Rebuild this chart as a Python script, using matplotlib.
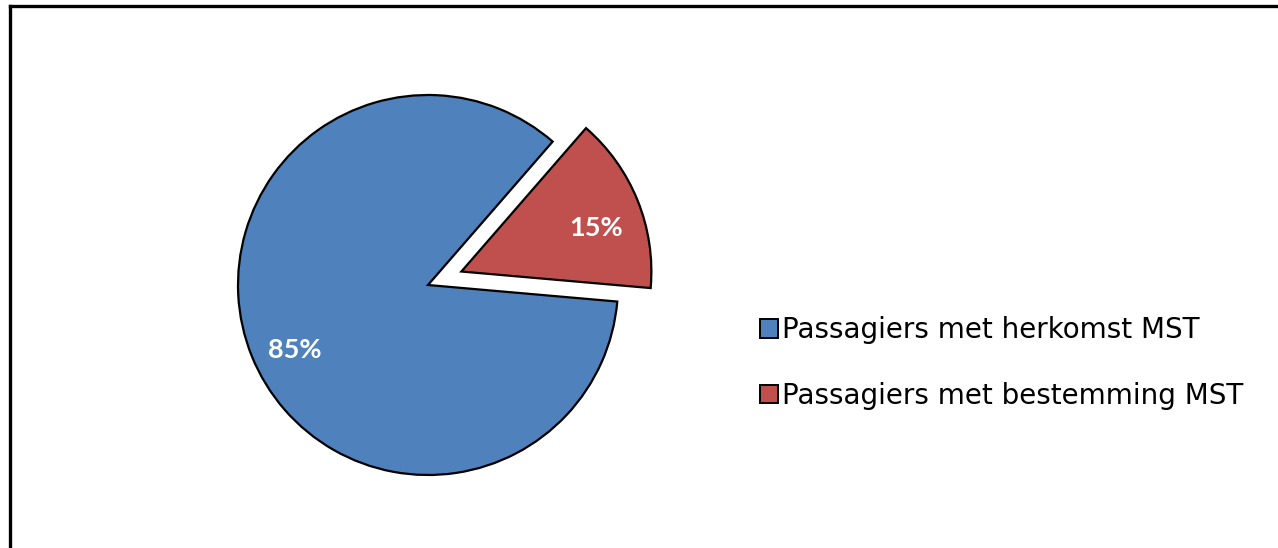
import matplotlib
matplotlib.use("Agg")
import matplotlib.pyplot as plt
from matplotlib.lines import Line2D

# passenger split for MST
categories = ["Passagiers met herkomst MST", "Passagiers met bestemming MST"]
shares = [85, 15]
colors = ["#4F81BD", "#C0504D"]

W, H = 1278, 548
fig = plt.figure(figsize=(W / 100, H / 100), dpi=100)
fig.patch.set_facecolor("white")

# axes in pixel units over the whole figure
ax = fig.add_axes([0, 0, 1, 1])
wedges, _, pcts = ax.pie(
    shares,
    colors=colors,
    center=(428, 263),
    radius=190,
    explode=(0, 36),
    startangle=49,
    counterclock=True,
    autopct="%.0f%%",
    pctdistance=0.76,
    wedgeprops=dict(edgecolor="black", linewidth=1.6),
    textprops=dict(color="white", fontsize=19.5, fontweight="bold", family="Lato"),
)
# nudge the percentage labels down a little
for t in pcts:
    x, y = t.get_position()
    t.set_position((x + 1, y - 11))

ax.set_xlim(0, W)
ax.set_ylim(0, H)
ax.set_aspect("equal")
ax.axis("off")

leg = ax.legend(
    wedges, categories,
    loc="center left",
    bbox_to_anchor=(760 / W, 1 - 363 / H),
    frameon=False,
    borderpad=0,
    borderaxespad=0,
    prop=dict(family="DejaVu Sans", size=20),
    handlelength=0.65,
    handleheight=0.65,
    handletextpad=0.15,
    labelspacing=1.35,
)
for h in leg.legend_handles:
    h.set_linewidth(1.4)

# outer chart frame (open at right and bottom)
fig.add_artist(Line2D([10 / W, 10 / W], [1 - 6 / H, -0.05], color="black", lw=2.4,
                      transform=fig.transFigure))
fig.add_artist(Line2D([10 / W, 1.05], [1 - 6 / H, 1 - 6 / H], color="black", lw=2.4,
                      transform=fig.transFigure))

fig.savefig("out.png", dpi=100)
